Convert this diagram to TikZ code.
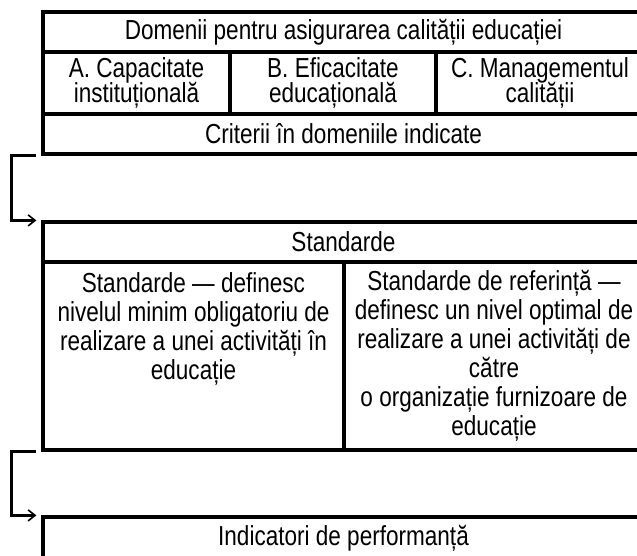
\documentclass[tikz,border=0pt]{standalone}
\usepackage{fontspec}
\setmainfont{Liberation Sans}[FakeStretch=0.82]
\usetikzlibrary{arrows.meta}

\begin{document}
\setlength{\lineskiplimit}{-20pt}
\begin{tikzpicture}[x=1pt,y=-1pt,
  cell/.style={draw, line width=3.2pt, inner sep=0pt, align=center,
    font=\fontsize{27.5}{25.5}\selectfont},
  wide/.style={cell, minimum width=601pt, minimum height=40pt},
  tall/.style={cell, minimum height=188pt, font=\fontsize{27.5}{29}\selectfont},
  txt/.style={inner sep=0pt, align=center, font=\fontsize{27.5}{29}\selectfont},
  link/.style={line width=2.4pt, -{Straight Barb[length=7pt,width=11pt,line width=1.6pt]}}]
\useasboundingbox (0,0) rectangle (637,555);
\clip (0,0) rectangle (637,555);
% domenii
\node[wide] (dom) at (343.5,32) {Domenii pentru asigurarea calității educației};
\node[cell, minimum width=187pt, minimum height=62pt] (capA) at (136.5,83) {A. Capacitate\\instituțională};
\node[cell, minimum width=206pt, minimum height=62pt] (efB) at (333,83) {B. Eficacitate\\educațională};
\node[cell, minimum width=208pt, minimum height=62pt] (manC) at (540,83) {C. Managementul\\calității};
\node[wide] (crit) at (343.5,134) {Criterii în domeniile indicate};
% standarde
\node[wide] (std) at (343.5,242) {Standarde};
\node[tall, minimum width=301pt] (stdmin) at (193.5,356) {};
\node[txt, anchor=north] (stdmintxt) at ([yshift=-12pt]stdmin.north)
  {Standarde — definesc\\nivelul minim obligatoriu de\\realizare a unei activități în\\educație};
\node[tall, minimum width=300pt] (stdref) at (494,356)
  {Standarde de referință —\\definesc un nivel optimal de\\realizare a unei activități de\\către\\o organizație furnizoare de\\educație};
% indicatori
\node[wide, minimum height=42pt] (ind) at (343.5,538) {Indicatori de performanță};
% legaturi
\draw[link] ([xshift=-5pt]crit.south west) -- ++(-25,0) |- ([xshift=-5pt]std.north west);
\draw[link] ([xshift=-5pt]stdmin.south west) -- ++(-25,0) |- ([xshift=-5pt]ind.north west);
\end{tikzpicture}
\end{document}
